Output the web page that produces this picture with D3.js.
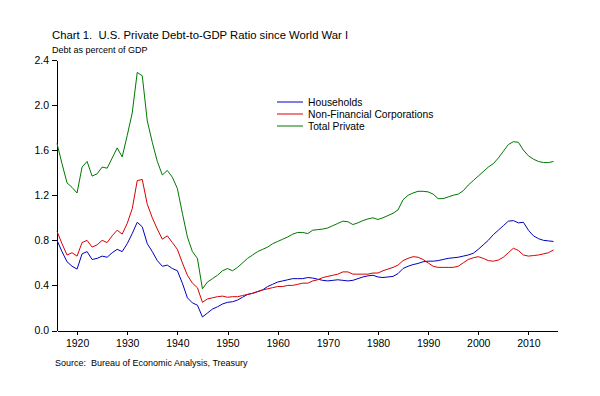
<!DOCTYPE html>
<meta charset='utf-8'>
<style>
  body { margin: 0; background: #fff; }
  svg { font-family: 'Liberation Sans', Arial, sans-serif; }
  svg text { white-space: pre; }
  .axis path, .axis line { stroke: #000; shape-rendering: crispEdges; }
  .axis text { font-size: 10.5px; fill: #000; }
  .line { fill: none; stroke-width: 1px; }
</style>
<body>
<script src='https://d3js.org/d3.v7.min.js'></script>
<script>
  // annual values, 1916 - 2015
  var years = d3.range(1916, 2016);

  var households = [
    0.80, 0.70, 0.61, 0.57, 0.545, 0.68, 0.70, 0.63, 0.64, 0.66,
    0.65, 0.69, 0.72, 0.70, 0.77, 0.86, 0.96, 0.92, 0.77, 0.70,
    0.62, 0.57, 0.58, 0.55, 0.53, 0.42, 0.29, 0.245, 0.225, 0.12,
    0.155, 0.19, 0.21, 0.235, 0.25, 0.255, 0.27, 0.295, 0.32, 0.33,
    0.345, 0.36, 0.39, 0.41, 0.43, 0.44, 0.45, 0.46, 0.46, 0.46,
    0.47, 0.465, 0.455, 0.445, 0.44, 0.445, 0.45, 0.445, 0.44, 0.445,
    0.46, 0.475, 0.485, 0.49, 0.475, 0.47, 0.475, 0.48, 0.505, 0.55,
    0.57, 0.585, 0.595, 0.61, 0.615, 0.615, 0.62, 0.63, 0.64, 0.645,
    0.65, 0.66, 0.67, 0.685, 0.72, 0.76, 0.80, 0.85, 0.89, 0.93,
    0.97, 0.975, 0.955, 0.96, 0.89, 0.84, 0.815, 0.80, 0.795, 0.79
  ];

  var corporations = [
    0.88, 0.77, 0.67, 0.69, 0.66, 0.78, 0.80, 0.74, 0.76, 0.80,
    0.78, 0.84, 0.89, 0.855, 0.95, 1.08, 1.33, 1.34, 1.12, 1.00,
    0.90, 0.81, 0.84, 0.78, 0.72, 0.60, 0.49, 0.42, 0.38, 0.25,
    0.28, 0.29, 0.30, 0.305, 0.295, 0.30, 0.30, 0.31, 0.32, 0.33,
    0.345, 0.36, 0.37, 0.38, 0.39, 0.39, 0.40, 0.40, 0.41, 0.42,
    0.42, 0.44, 0.45, 0.47, 0.48, 0.49, 0.50, 0.52, 0.52, 0.50,
    0.50, 0.50, 0.50, 0.51, 0.51, 0.53, 0.545, 0.56, 0.58, 0.62,
    0.64, 0.655, 0.65, 0.63, 0.60, 0.57, 0.56, 0.56, 0.56, 0.56,
    0.57, 0.60, 0.63, 0.645, 0.655, 0.64, 0.62, 0.615, 0.625, 0.65,
    0.69, 0.73, 0.71, 0.67, 0.66, 0.665, 0.67, 0.68, 0.69, 0.715
  ];

  var totalPrivate = [
    1.66, 1.48, 1.31, 1.27, 1.22, 1.45, 1.50, 1.37, 1.39, 1.45,
    1.44, 1.53, 1.62, 1.54, 1.73, 1.93, 2.29, 2.26, 1.86, 1.67,
    1.50, 1.38, 1.42, 1.36, 1.26, 1.04, 0.83, 0.70, 0.64, 0.37,
    0.43, 0.46, 0.49, 0.53, 0.55, 0.53, 0.56, 0.60, 0.64, 0.67,
    0.70, 0.72, 0.74, 0.77, 0.79, 0.81, 0.83, 0.855, 0.87, 0.87,
    0.86, 0.89, 0.895, 0.90, 0.91, 0.93, 0.95, 0.97, 0.965, 0.94,
    0.955, 0.975, 0.99, 1.00, 0.985, 1.00, 1.02, 1.04, 1.07, 1.16,
    1.20, 1.22, 1.235, 1.235, 1.23, 1.21, 1.17, 1.17, 1.185, 1.20,
    1.21, 1.24, 1.29, 1.33, 1.37, 1.41, 1.45, 1.48, 1.53, 1.59,
    1.65, 1.675, 1.67, 1.60, 1.55, 1.52, 1.50, 1.49, 1.49, 1.50
  ];

  var seriesNames = ['Households', 'Non-Financial Corporations', 'Total Private'];
  var seriesColors = ['#0000c0', '#d80000', '#007800'];
  var yTicks = [0.0, 0.4, 0.8, 1.2, 1.6, 2.0, 2.4];
  var xTicks = [1920, 1930, 1940, 1950, 1960, 1970, 1980, 1990, 2000, 2010];

  var W = 600, H = 396;
  var svg = d3.select('body').append('svg')
    .attr('width', W)
    .attr('height', H);

  var x = d3.scaleLinear().domain([1916, 2015.7]).range([57, 557]);
  var y = d3.scaleLinear().domain([0, 2.4]).range([330.5, 60]);

  // title + units
  svg.append('text')
    .attr('x', 52).attr('y', 39)
    .style('font-size', '11.3px')
    .text('Chart 1.  U.S. Private Debt-to-GDP Ratio since World War I');

  svg.append('text')
    .attr('x', 52).attr('y', 53)
    .style('font-size', '9px')
    .text('Debt as percent of GDP');

  // axes
  svg.append('g')
    .attr('class', 'axis')
    .attr('transform', 'translate(57,0)')
    .call(d3.axisLeft(y).tickValues(yTicks).tickSize(5).tickSizeOuter(0)
      .tickFormat(d3.format('.1f')));

  svg.append('g')
    .attr('class', 'axis')
    .attr('transform', 'translate(0,330.5)')
    .call(d3.axisBottom(x).tickValues(xTicks).tickSize(4).tickSizeOuter(0)
      .tickFormat(d3.format('d')))
    .selectAll('text').attr('dy', '0.95em');

  // lines
  var allSeries = [households, corporations, totalPrivate];
  var line = d3.line()
    .x(function(d, i) { return x(years[i]); })
    .y(function(d) { return y(d); });

  allSeries.forEach(function(s, i) {
    svg.append('path')
      .datum(s)
      .attr('class', 'line')
      .attr('stroke', seriesColors[i])
      .attr('d', line);
  });

  // legend
  var legend = svg.append('g').attr('transform', 'translate(277,102)');
  seriesNames.forEach(function(name, i) {
    legend.append('line')
      .attr('x1', 0).attr('x2', 26)
      .attr('y1', i * 12).attr('y2', i * 12)
      .attr('stroke', seriesColors[i]);
    legend.append('text')
      .attr('x', 31).attr('y', i * 12 + 4)
      .style('font-size', '10.3px')
      .text(name);
  });

  // source
  svg.append('text')
    .attr('x', 55).attr('y', 366)
    .style('font-size', '9px')
    .text('Source:  Bureau of Economic Analysis, Treasury');
</script>
</body>
